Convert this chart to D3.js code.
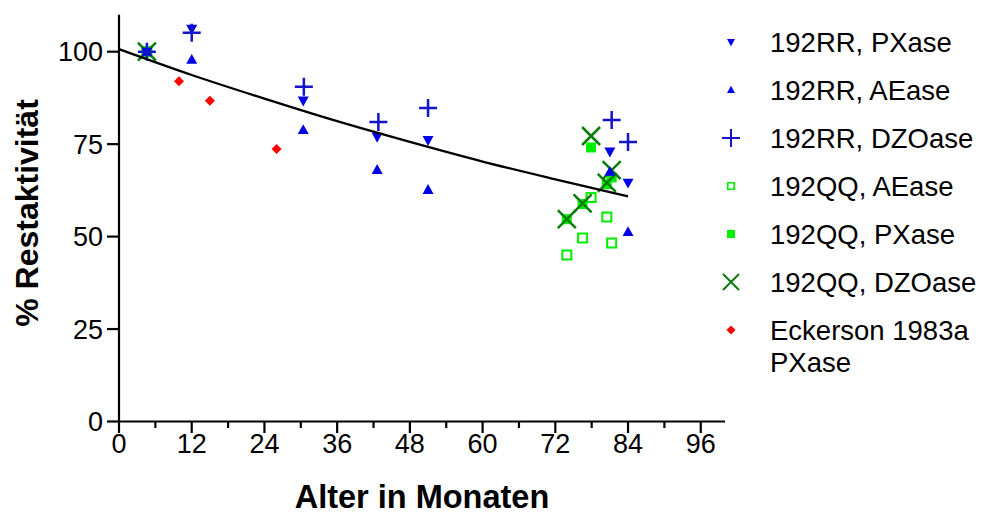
<!DOCTYPE html>
<html>
<head>
<meta charset="utf-8">
<script src="https://cdn.jsdelivr.net/npm/d3@7"></script>
<style>
  html, body { margin: 0; padding: 0; background: #fff; }
  svg { display: block; }
  text { font-family: "Liberation Sans", Arial, sans-serif; fill: #000; }
</style>
</head>
<body>
<svg id="chart" width="985" height="516"></svg>
<script>
// ---- data ----
const xTicks = [0, 12, 24, 36, 48, 60, 72, 84, 96];
const yTicks = [0, 25, 50, 75, 100];

const rrPX_x = [4.6, 12, 30.4, 42.6, 51, 81, 84];
const rrPX_y = [100, 106.2, 86.8, 77.0, 76.1, 73.0, 64.6];

const rrAE_x = [4.6, 12, 30.4, 42.6, 51, 81, 84];
const rrAE_y = [100, 97.8, 78.8, 68.0, 62.6, 67.5, 51.2];

const rrDZO_x = [4.6, 12, 30.5, 42.8, 51, 81.3, 84];
const rrDZO_y = [100, 105.1, 90.5, 81.0, 84.8, 81.5, 75.6];

const qqAE_x = [4.6, 73.9, 76.5, 77.9, 80.5, 81.3];
const qqAE_y = [100, 45.0, 49.6, 60.6, 55.3, 48.3];

const qqPX_x = [4.6, 73.9, 76.5, 77.9, 80.5, 81.3];
const qqPX_y = [100, 54.7, 58.8, 74.1, 64.2, 66.0];

const qqDZO_x = [4.6, 73.9, 76.5, 77.9, 80.5, 81.3];
const qqDZO_y = [100, 54.7, 59.0, 77.2, 64.5, 68.0];

const eck_x = [9.9, 15, 26];
const eck_y = [92.0, 86.7, 73.7];

// fitted curve
const fit_x = [0, 12, 24, 36, 48, 60, 72, 84];
const fit_y = [100.7, 93.7, 87.3, 81.2, 75.6, 70.3, 65.5, 60.9];

const legendLabels = [
  ["192RR, PXase"], ["192RR, AEase"], ["192RR, DZOase"],
  ["192QQ, AEase"], ["192QQ, PXase"], ["192QQ, DZOase"],
  ["Eckerson 1983a", "PXase"]
];

// ---- layout ----
const svg = d3.select("#chart");
const x = d3.scaleLinear().domain([0, 100]).range([119, 725]);
const y = d3.scaleLinear().domain([0, 110]).range([421.5, 14.7]);

// marker shapes
function triUp(s) { const h = s * 0.9; return `M0,${-h*0.6}L${s/2},${h*0.4}L${-s/2},${h*0.4}Z`; }
function triDown(s) { const h = s * 0.9; return `M0,${h*0.6}L${s/2},${-h*0.4}L${-s/2},${-h*0.4}Z`; }
function plus(s) { const r = s/2; return `M${-r},0H${r}M0,${-r}V${r}`; }
function cross(s) { const r = s/2; return `M${-r},${-r}L${r},${r}M${r},${-r}L${-r},${r}`; }
function square(s) { const r = s/2; return `M${-r},${-r}H${r}V${r}H${-r}Z`; }
function diamond(s) { const r = s/2; return `M0,${-r}L${r},0L0,${r}L${-r},0Z`; }

const blue = "#0000e6", blueDark = "#1414c8", green = "#00ee00", darkGreen = "#0a7d0a", red = "#ff0000";

const series = [
  { xs: rrPX_x, ys: rrPX_y, shape: triDown, size: 11, lsize: 8, fill: blue, stroke: "none", sw: 0 },
  { xs: rrAE_x, ys: rrAE_y, shape: triUp, size: 11, lsize: 8, fill: blue, stroke: "none", sw: 0 },
  { xs: rrDZO_x, ys: rrDZO_y, shape: plus, size: 18, lsize: 18, fill: "none", stroke: blueDark, sw: 2.5 },
  { xs: qqAE_x, ys: qqAE_y, shape: square, size: 9, lsize: 6.5, fill: "#fff", stroke: green, sw: 2 },
  { xs: qqPX_x, ys: qqPX_y, shape: square, size: 10, lsize: 8, fill: green, stroke: "none", sw: 0 },
  { xs: qqDZO_x, ys: qqDZO_y, shape: cross, size: 18, lsize: 16, fill: "none", stroke: darkGreen, sw: 2.5 },
  { xs: eck_x, ys: eck_y, shape: diamond, size: 10, lsize: 9, fill: red, stroke: "none", sw: 0 }
];

// axes
const xAxis = svg.append("g").attr("transform", `translate(0,${y(0)})`);
xAxis.append("line").attr("x1", x(0)).attr("x2", x(100)).attr("stroke", "#000").attr("stroke-width", 2.2);
const minorX = d3.range(6, 100, 12);
xAxis.selectAll("line.minor").data(minorX).join("line")
  .attr("x1", d => x(d)).attr("x2", d => x(d)).attr("y1", 0).attr("y2", 6.5)
  .attr("stroke", "#000").attr("stroke-width", 2.2);
xAxis.selectAll("line.major").data(xTicks).join("line")
  .attr("x1", d => x(d)).attr("x2", d => x(d)).attr("y1", 0).attr("y2", 11.5)
  .attr("stroke", "#000").attr("stroke-width", 2.2);
xAxis.selectAll("text").data(xTicks).join("text")
  .attr("x", d => x(d)).attr("y", 31).attr("text-anchor", "middle")
  .attr("font-size", 27).text(d => d);

const yAxis = svg.append("g");
yAxis.append("line").attr("x1", x(0)).attr("x2", x(0)).attr("y1", y(110)).attr("y2", y(0))
  .attr("stroke", "#000").attr("stroke-width", 2.2);
yAxis.selectAll("line.t").data(yTicks).join("line")
  .attr("x1", x(0) - 12).attr("x2", x(0)).attr("y1", d => y(d)).attr("y2", d => y(d))
  .attr("stroke", "#000").attr("stroke-width", 2.2);
yAxis.selectAll("text").data(yTicks).join("text")
  .attr("x", x(0) - 16).attr("y", d => y(d) + 9.5).attr("text-anchor", "end")
  .attr("font-size", 27).text(d => d);

// axis titles
svg.append("text").attr("x", 422).attr("y", 508).attr("text-anchor", "middle")
  .attr("font-size", 32.5).attr("font-weight", "bold").text("Alter in Monaten");
svg.append("text").attr("transform", "translate(38,213) rotate(-90)").attr("text-anchor", "middle")
  .attr("font-size", 32).attr("font-weight", "bold").text("% Restaktivität");

// points (drawing order so blue sits over green, as in the picture)
const drawOrder = [6, 3, 4, 5, 0, 1, 2];
const pts = svg.append("g");
drawOrder.forEach(i => {
  const s = series[i];
  pts.append("g").selectAll("path").data(d3.zip(s.xs, s.ys)).join("path")
    .attr("transform", d => `translate(${x(d[0])},${y(d[1])})`)
    .attr("d", s.shape(s.size))
    .attr("fill", s.fill).attr("stroke", s.stroke).attr("stroke-width", s.sw);
});

// fitted curve
const line = d3.line().x((d) => x(d[0])).y(d => y(d[1])).curve(d3.curveMonotoneX);
svg.append("path").datum(d3.zip(fit_x, fit_y)).attr("d", line)
  .attr("fill", "none").attr("stroke", "#000").attr("stroke-width", 2.3);

// legend
const lg = svg.append("g");
const rowY = d3.scaleLinear().domain([0, 6]).range([42, 330]);
series.forEach((s, i) => {
  const cy = rowY(i);
  lg.append("path").attr("transform", `translate(731,${cy})`).attr("d", s.shape(s.lsize))
    .attr("fill", s.fill).attr("stroke", s.stroke).attr("stroke-width", s.sw === 0 ? 0 : (s.sw > 2 ? 2 : 1.7));
  legendLabels[i].forEach((t, j) => {
    lg.append("text").attr("x", 770).attr("y", cy + 10 + j * 32).attr("font-size", 27.5).text(t);
  });
});
</script>
</body>
</html>
